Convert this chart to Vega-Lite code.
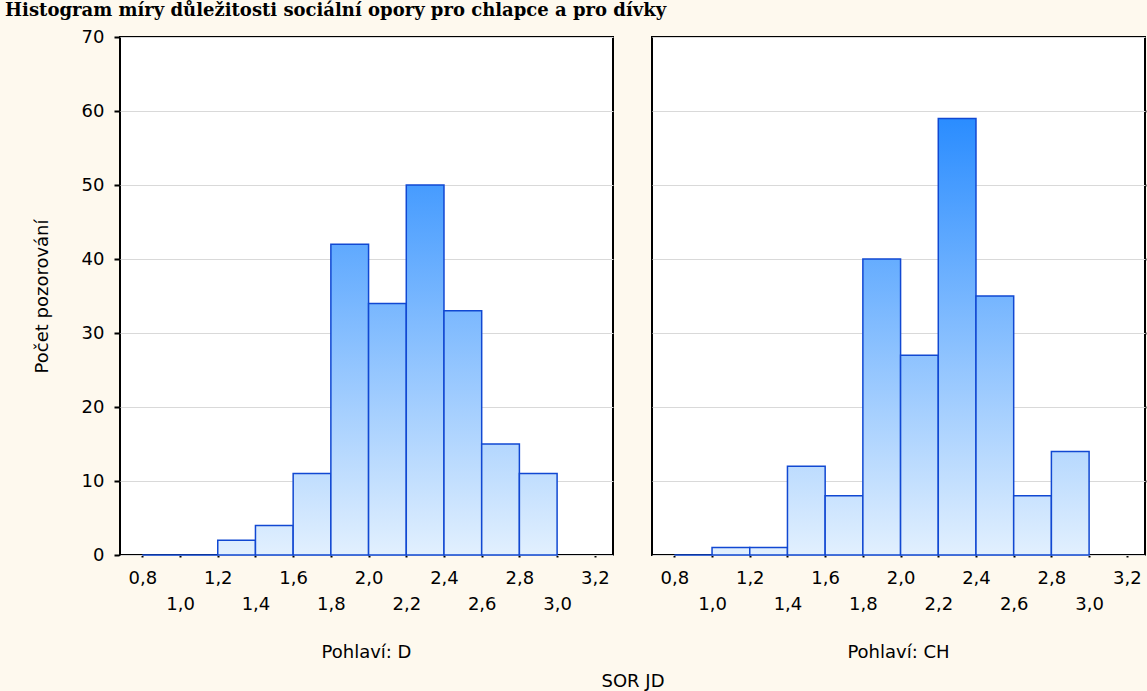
{
  "$schema": "https://vega.github.io/schema/vega-lite/v6.json",
  "background": "#fef9ee",
  "padding": {"left": 5, "top": 2, "right": 0, "bottom": 0},
  "title": {
    "text": "Histogram míry důležitosti sociální opory pro chlapce a pro dívky",
    "anchor": "start",
    "frame": "bounds",
    "font": "DejaVu Serif",
    "fontSize": 18,
    "fontWeight": "bold",
    "color": "black",
    "offset": 8,
    "dx": -28
  },
  "config": {
    "font": "DejaVu Sans",
    "view": {"fill": "white", "stroke": "black", "strokeWidth": 2},
    "axis": {"labelColor": "black", "titleColor": "black"}
  },
  "data": {
    "values": [
      {"sex": "D", "bin_start": 0.8, "bin_end": 1.0, "count": 0},
      {"sex": "D", "bin_start": 1.0, "bin_end": 1.2, "count": 0},
      {"sex": "D", "bin_start": 1.2, "bin_end": 1.4, "count": 2},
      {"sex": "D", "bin_start": 1.4, "bin_end": 1.6, "count": 4},
      {"sex": "D", "bin_start": 1.6, "bin_end": 1.8, "count": 11},
      {"sex": "D", "bin_start": 1.8, "bin_end": 2.0, "count": 42},
      {"sex": "D", "bin_start": 2.0, "bin_end": 2.2, "count": 34},
      {"sex": "D", "bin_start": 2.2, "bin_end": 2.4, "count": 50},
      {"sex": "D", "bin_start": 2.4, "bin_end": 2.6, "count": 33},
      {"sex": "D", "bin_start": 2.6, "bin_end": 2.8, "count": 15},
      {"sex": "D", "bin_start": 2.8, "bin_end": 3.0, "count": 11},
      {"sex": "CH", "bin_start": 0.8, "bin_end": 1.0, "count": 0},
      {"sex": "CH", "bin_start": 1.0, "bin_end": 1.2, "count": 1},
      {"sex": "CH", "bin_start": 1.2, "bin_end": 1.4, "count": 1},
      {"sex": "CH", "bin_start": 1.4, "bin_end": 1.6, "count": 12},
      {"sex": "CH", "bin_start": 1.6, "bin_end": 1.8, "count": 8},
      {"sex": "CH", "bin_start": 1.8, "bin_end": 2.0, "count": 40},
      {"sex": "CH", "bin_start": 2.0, "bin_end": 2.2, "count": 27},
      {"sex": "CH", "bin_start": 2.2, "bin_end": 2.4, "count": 59},
      {"sex": "CH", "bin_start": 2.4, "bin_end": 2.6, "count": 35},
      {"sex": "CH", "bin_start": 2.6, "bin_end": 2.8, "count": 8},
      {"sex": "CH", "bin_start": 2.8, "bin_end": 3.0, "count": 14}
    ]
  },
  "facet": {
    "column": {
      "field": "sex",
      "type": "nominal",
      "sort": ["D", "CH"],
      "title": "SOR JD",
      "header": {
        "labelOrient": "bottom",
        "titleOrient": "bottom",
        "labelExpr": "'Pohlaví: ' + datum.value",
        "labelFont": "DejaVu Sans",
        "labelFontSize": 18,
        "labelColor": "black",
        "labelPadding": 31,
        "titleFont": "DejaVu Sans",
        "titleFontSize": 18,
        "titleFontWeight": "normal",
        "titleColor": "black",
        "titlePadding": 1
      }
    }
  },
  "spacing": 37,
  "spec": {
    "width": 493,
    "height": 518,
    "resolve": {"axis": {"x": "independent", "y": "independent"}},
    "layer": [
      {
        "mark": {"type": "bar", "stroke": "#1148d2", "strokeWidth": 1.5, "orient": "vertical"},
        "encoding": {
          "x": {
            "field": "bin_start",
            "type": "quantitative",
            "scale": {"domain": [0.708, 3.27], "nice": false, "zero": false},
            "axis": {
              "title": null,
              "values": [0.8, 1.0, 1.2, 1.4, 1.6, 1.8, 2.0, 2.2, 2.4, 2.6, 2.8, 3.0, 3.2],
              "labelExpr": "round(datum.value*10) % 4 == 0 ? replace(format(datum.value, '.1f'), '.', ',') : ['', replace(format(datum.value, '.1f'), '.', ',')]",
              "labelFont": "DejaVu Sans",
              "labelFontSize": 18,
              "labelLineHeight": 26,
              "labelOverlap": false,
              "labelFlush": false,
              "labelBound": false,
              "labelBaseline": "top",
              "domain": false,
              "grid": false,
              "ticks": true,
              "tickSize": -5,
              "tickWidth": 2,
              "tickColor": "black",
              "labelPadding": 17
            }
          },
          "x2": {"field": "bin_end"},
          "y": {
            "field": "count",
            "type": "quantitative",
            "scale": {"domain": [0, 70], "nice": false},
            "axis": {
              "title": "Počet pozorování",
              "titleFont": "DejaVu Sans",
              "titleFontSize": 18,
              "titleFontWeight": "normal",
              "titlePadding": 30,
              "values": [0, 10, 20, 30, 40, 50, 60, 70],
              "labelFont": "DejaVu Sans",
              "labelFontSize": 18,
              "labelPadding": 10,
              "domain": false,
              "grid": true,
              "gridColor": "#d9d9d9",
              "gridWidth": 1,
              "ticks": true,
              "tickSize": 5,
              "tickWidth": 2,
              "tickColor": "black"
            }
          },
          "fill": {
            "condition": [
              {"test": "datum.count == 1", "value": {"gradient": "linear", "x1": 0, "y1": 1, "x2": 0, "y2": -69, "stops": [{"offset": 0, "color": "#e2f0fe"}, {"offset": 1, "color": "#087aff"}]}},
              {"test": "datum.count == 2", "value": {"gradient": "linear", "x1": 0, "y1": 1, "x2": 0, "y2": -34, "stops": [{"offset": 0, "color": "#e2f0fe"}, {"offset": 1, "color": "#087aff"}]}},
              {"test": "datum.count == 4", "value": {"gradient": "linear", "x1": 0, "y1": 1, "x2": 0, "y2": -16.5, "stops": [{"offset": 0, "color": "#e2f0fe"}, {"offset": 1, "color": "#087aff"}]}},
              {"test": "datum.count == 8", "value": {"gradient": "linear", "x1": 0, "y1": 1, "x2": 0, "y2": -7.75, "stops": [{"offset": 0, "color": "#e2f0fe"}, {"offset": 1, "color": "#087aff"}]}},
              {"test": "datum.count == 11", "value": {"gradient": "linear", "x1": 0, "y1": 1, "x2": 0, "y2": -5.364, "stops": [{"offset": 0, "color": "#e2f0fe"}, {"offset": 1, "color": "#087aff"}]}},
              {"test": "datum.count == 12", "value": {"gradient": "linear", "x1": 0, "y1": 1, "x2": 0, "y2": -4.833, "stops": [{"offset": 0, "color": "#e2f0fe"}, {"offset": 1, "color": "#087aff"}]}},
              {"test": "datum.count == 14", "value": {"gradient": "linear", "x1": 0, "y1": 1, "x2": 0, "y2": -4, "stops": [{"offset": 0, "color": "#e2f0fe"}, {"offset": 1, "color": "#087aff"}]}},
              {"test": "datum.count == 15", "value": {"gradient": "linear", "x1": 0, "y1": 1, "x2": 0, "y2": -3.667, "stops": [{"offset": 0, "color": "#e2f0fe"}, {"offset": 1, "color": "#087aff"}]}},
              {"test": "datum.count == 27", "value": {"gradient": "linear", "x1": 0, "y1": 1, "x2": 0, "y2": -1.593, "stops": [{"offset": 0, "color": "#e2f0fe"}, {"offset": 1, "color": "#087aff"}]}},
              {"test": "datum.count == 33", "value": {"gradient": "linear", "x1": 0, "y1": 1, "x2": 0, "y2": -1.121, "stops": [{"offset": 0, "color": "#e2f0fe"}, {"offset": 1, "color": "#087aff"}]}},
              {"test": "datum.count == 34", "value": {"gradient": "linear", "x1": 0, "y1": 1, "x2": 0, "y2": -1.059, "stops": [{"offset": 0, "color": "#e2f0fe"}, {"offset": 1, "color": "#087aff"}]}},
              {"test": "datum.count == 35", "value": {"gradient": "linear", "x1": 0, "y1": 1, "x2": 0, "y2": -1, "stops": [{"offset": 0, "color": "#e2f0fe"}, {"offset": 1, "color": "#087aff"}]}},
              {"test": "datum.count == 40", "value": {"gradient": "linear", "x1": 0, "y1": 1, "x2": 0, "y2": -0.75, "stops": [{"offset": 0, "color": "#e2f0fe"}, {"offset": 1, "color": "#087aff"}]}},
              {"test": "datum.count == 42", "value": {"gradient": "linear", "x1": 0, "y1": 1, "x2": 0, "y2": -0.667, "stops": [{"offset": 0, "color": "#e2f0fe"}, {"offset": 1, "color": "#087aff"}]}},
              {"test": "datum.count == 50", "value": {"gradient": "linear", "x1": 0, "y1": 1, "x2": 0, "y2": -0.4, "stops": [{"offset": 0, "color": "#e2f0fe"}, {"offset": 1, "color": "#087aff"}]}},
              {"test": "datum.count == 59", "value": {"gradient": "linear", "x1": 0, "y1": 1, "x2": 0, "y2": -0.186, "stops": [{"offset": 0, "color": "#e2f0fe"}, {"offset": 1, "color": "#087aff"}]}}
            ],
            "value": "transparent"
          }
        }
      },
      {
        "mark": {"type": "bar", "opacity": 0, "orient": "vertical"},
        "encoding": {
          "x": {
            "field": "bin_start",
            "type": "quantitative",
            "axis": {
              "orient": "top",
              "title": null,
              "values": [0.8, 1.0, 1.2, 1.4, 1.6, 1.8, 2.0, 2.2, 2.4, 2.6, 2.8, 3.0, 3.2],
              "labels": false,
              "domain": false,
              "grid": false,
              "ticks": true,
              "tickSize": -5,
              "tickWidth": 2,
              "tickColor": "black"
            }
          },
          "x2": {"field": "bin_end"},
          "y": {
            "field": "count",
            "type": "quantitative",
            "axis": {
              "orient": "right",
              "title": null,
              "values": [10, 20, 30, 40, 50, 60],
              "labels": false,
              "domain": false,
              "grid": false,
              "ticks": true,
              "tickSize": -5,
              "tickWidth": 2,
              "tickColor": "black"
            }
          }
        }
      }
    ]
  }
}
